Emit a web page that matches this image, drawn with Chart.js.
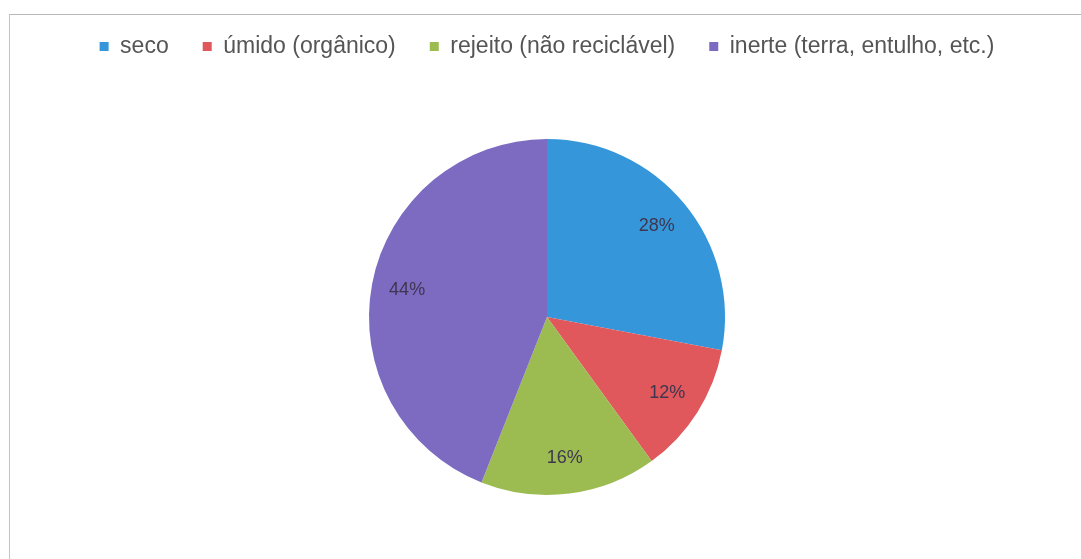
<!DOCTYPE html>
<html>
<head>
<meta charset="utf-8">
<script src="https://cdn.jsdelivr.net/npm/chart.js@4.4.0/dist/chart.umd.min.js"></script>
<style>
  html, body { margin: 0; padding: 0; background: #fff; }
  #wrap { position: relative; width: 1081px; height: 559px; overflow: hidden; }
  #frame {
    position: absolute; left: 9px; top: 14px; right: -2px; bottom: -2px;
    border-top: 1px solid #b8b8b8; border-left: 1px solid #c4c4c4;
  }
  #chart { position: absolute; left: 0; top: 0; }
</style>
</head>
<body>
<div id="wrap">
  <div id="frame"></div>
  <canvas id="chart" width="1081" height="559"></canvas>
</div>
<script>
const categorias = ['seco', 'úmido (orgânico)', 'rejeito (não reciclável)', 'inerte (terra, entulho, etc.)'];
const percentuais = [28, 12, 16, 44];
const cores = ['#3597da', '#e0585b', '#9cbc52', '#7d6bc1'];

// pushes the pie down below the legend
const legendGap = {
  id: 'legendGap',
  beforeInit(chart) {
    const fit = chart.legend.fit;
    chart.legend.fit = function () {
      fit.call(this);
      this.height += 71;
    };
  }
};

// percentage text inside each slice
const rotulos = {
  id: 'rotulos',
  afterDatasetsDraw(chart) {
    const { ctx } = chart;
    const meta = chart.getDatasetMeta(0);
    const total = percentuais.reduce((a, b) => a + b, 0);
    ctx.save();
    ctx.font = '18px "Liberation Sans", sans-serif';
    ctx.fillStyle = '#3e3650';
    ctx.textAlign = 'center';
    ctx.textBaseline = 'middle';
    meta.data.forEach((arc, i) => {
      const mid = (arc.startAngle + arc.endAngle) / 2;
      const r = arc.outerRadius * 0.8;
      const x = arc.x + Math.cos(mid) * r;
      const y = arc.y + Math.sin(mid) * r;
      ctx.fillText(Math.round(percentuais[i] / total * 100) + '%', x, y);
    });
    ctx.restore();
  }
};

new Chart(document.getElementById('chart'), {
  type: 'pie',
  data: {
    labels: categorias,
    datasets: [{
      data: percentuais,
      backgroundColor: cores,
      borderWidth: 0
    }]
  },
  options: {
    responsive: false,
    animation: false,
    layout: { padding: { top: 1, bottom: 64, left: 13, right: 0 } },
    plugins: {
      tooltip: { enabled: false },
      legend: {
        position: 'top',
        labels: {
          boxWidth: 9,
          boxHeight: 9,
          padding: 34,
          color: '#555',
          font: { family: '"Liberation Sans", sans-serif', size: 23 }
        }
      }
    }
  },
  plugins: [legendGap, rotulos]
});
</script>
</body>
</html>
